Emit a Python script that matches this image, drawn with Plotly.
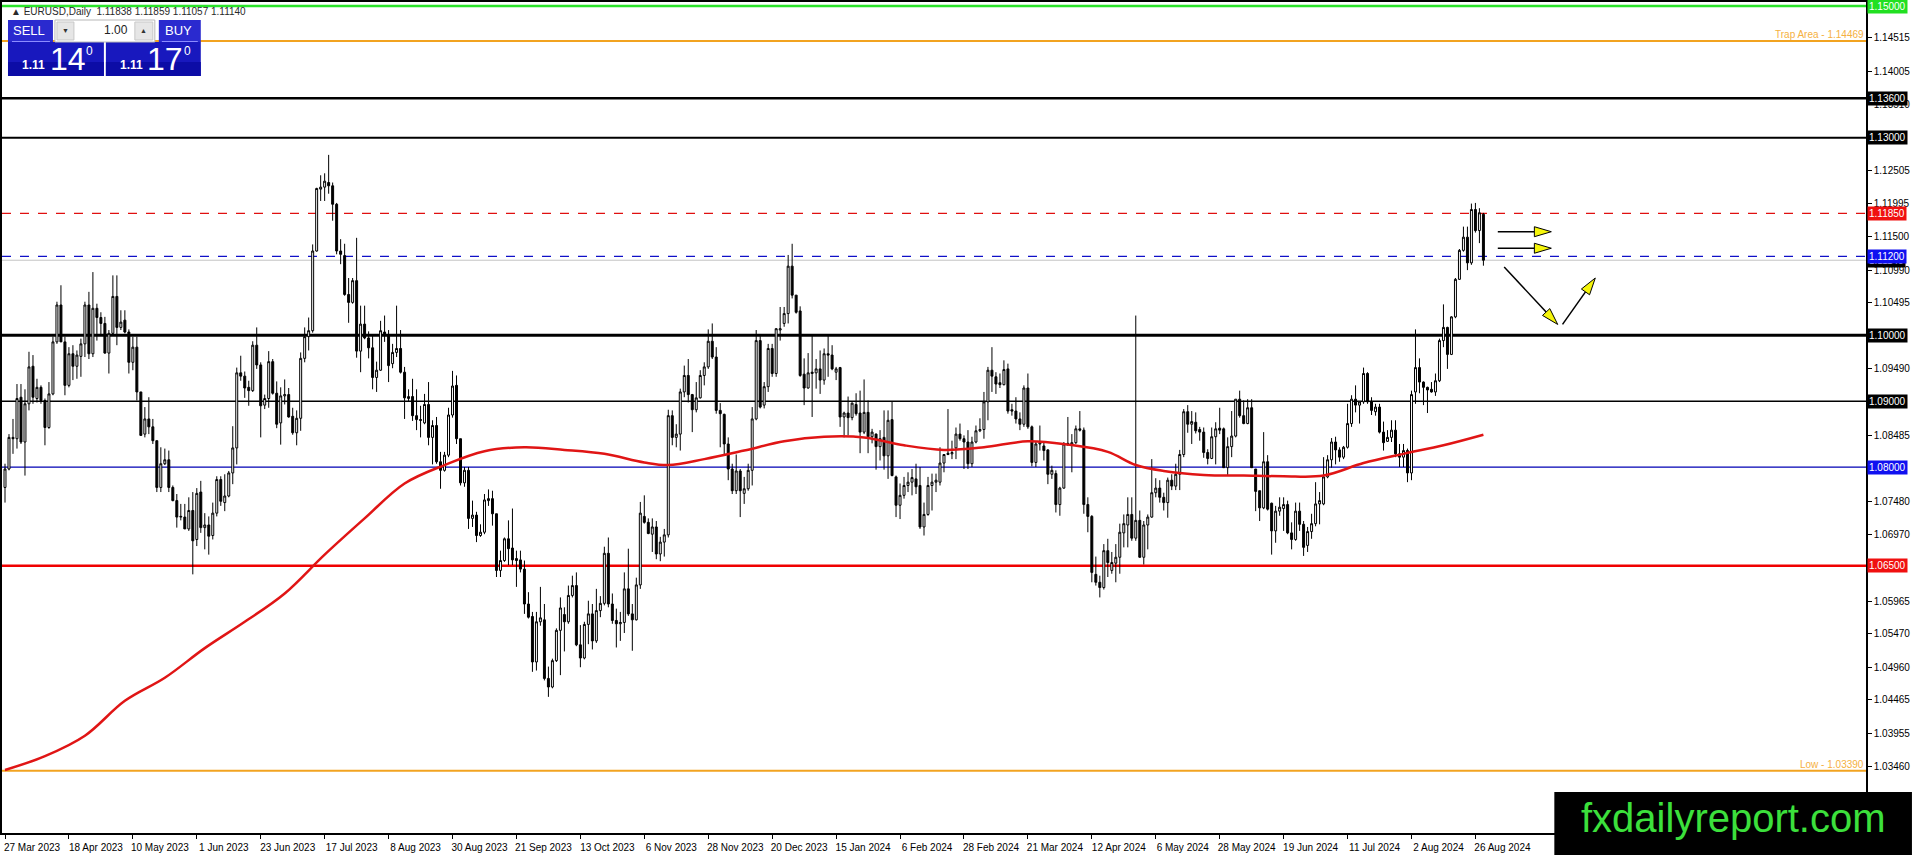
import plotly.graph_objects as go

# ---- data ----------------------------------------------------------------
tick_labels = ["27 Mar 2023", "18 Apr 2023", "10 May 2023", "1 Jun 2023", "23 Jun 2023",
               "17 Jul 2023", "8 Aug 2023", "30 Aug 2023", "21 Sep 2023", "13 Oct 2023",
               "6 Nov 2023", "28 Nov 2023", "20 Dec 2023", "15 Jan 2024", "6 Feb 2024",
               "28 Feb 2024", "21 Mar 2024", "12 Apr 2024", "6 May 2024", "28 May 2024",
               "19 Jun 2024", "11 Jul 2024", "2 Aug 2024", "26 Aug 2024"]

opens = [
    1.0769, 1.0797, 1.0845, 1.0843, 1.0906, 1.0838, 1.0896, 1.0953, 1.0904, 1.0921,
    1.0901, 1.0860, 1.0911, 1.0990, 1.1046, 1.0990, 1.0924, 1.0972, 1.0953, 1.0968,
    1.0987, 1.1046, 1.0972, 1.1041, 1.1027, 1.1018, 1.0973, 1.1003, 1.1059, 1.1012,
    1.1023, 1.1005, 1.0959, 1.0982, 1.0914, 1.0850, 1.0873, 1.0861, 1.0840, 1.0769,
    1.0805, 1.0811, 1.0769, 1.0749, 1.0724, 1.0724, 1.0706, 1.0734, 1.0690, 1.0762,
    1.0708, 1.0712, 1.0696, 1.0730, 1.0781, 1.0746, 1.0756, 1.0791, 1.0829, 1.0943,
    1.0938, 1.0921, 1.0916, 1.0985, 1.0955, 1.0894, 1.0904, 1.0960, 1.0912, 1.0867,
    1.0908, 1.0910, 1.0877, 1.0852, 1.0874, 1.0965, 1.0998, 1.1007, 1.1128, 1.1222,
    1.1225, 1.1232, 1.1227, 1.1199, 1.1128, 1.1121, 1.1062, 1.1050, 1.1083, 1.0976,
    1.1017, 1.0996, 1.0981, 1.0936, 1.0947, 1.1005, 1.1000, 1.0957, 1.0974, 1.0980,
    1.0944, 1.0904, 1.0907, 1.0878, 1.0872, 1.0867, 1.0895, 1.0845, 1.0863, 1.0808,
    1.0795, 1.0818, 1.0879, 1.0924, 1.0843, 1.0776, 1.0795, 1.0722, 1.0727, 1.0696,
    1.0701, 1.0749, 1.0752, 1.0729, 1.0643, 1.0658, 1.0691, 1.0677, 1.0661, 1.0659,
    1.0645, 1.0592, 1.0573, 1.0504, 1.0565, 1.0568, 1.0479, 1.0466, 1.0506, 1.0552,
    1.0576, 1.0565, 1.0605, 1.0620, 1.0530, 1.0510, 1.0561, 1.0577, 1.0536, 1.0582,
    1.0593, 1.0669, 1.0592, 1.0567, 1.0562, 1.0564, 1.0615, 1.0577, 1.0568, 1.0621,
    1.0725, 1.0716, 1.0698, 1.0709, 1.0668, 1.0686, 1.0697, 1.0878, 1.0845, 1.0850,
    1.0914, 1.0939, 1.0910, 1.0887, 1.0905, 1.0939, 1.0952, 1.0991, 1.0967, 1.0886,
    1.0880, 1.0835, 1.0797, 1.0764, 1.0794, 1.0760, 1.0767, 1.0795, 1.0873, 1.0992,
    1.0894, 1.0922, 1.0980, 1.0942, 1.1008, 1.1018, 1.1033, 1.1105, 1.1061, 1.1037,
    1.0941, 1.0920, 1.0942, 1.0943, 1.0949, 1.0932, 1.0972, 1.0970, 1.0944, 1.0951,
    1.0876, 1.0882, 1.0875, 1.0895, 1.0882, 1.0853, 1.0883, 1.0846, 1.0850, 1.0831,
    1.0845, 1.0817, 1.0872, 1.0785, 1.0742, 1.0757, 1.0772, 1.0777, 1.0782, 1.0772,
    1.0709, 1.0728, 1.0772, 1.0777, 1.0777, 1.0806, 1.0819, 1.0820, 1.0829, 1.0850,
    1.0843, 1.0838, 1.0805, 1.0838, 1.0855, 1.0857, 1.0899, 1.0947, 1.0937, 1.0928,
    1.0925, 1.0949, 1.0887, 1.0885, 1.0873, 1.0865, 1.0920, 1.0861, 1.0807, 1.0835,
    1.0832, 1.0826, 1.0789, 1.0790, 1.0743, 1.0768, 1.0834, 1.0834, 1.0837, 1.0858,
    1.0856, 1.0743, 1.0725, 1.0637, 1.0625, 1.0617, 1.0673, 1.0643, 1.0654, 1.0663,
    1.0700, 1.0712, 1.0728, 1.0692, 1.0719, 1.0663, 1.0712, 1.0724, 1.0761, 1.0768,
    1.0754, 1.0746, 1.0780, 1.0771, 1.0789, 1.0819, 1.0884, 1.0865, 1.0868, 1.0857,
    1.0853, 1.0822, 1.0813, 1.0846, 1.0859, 1.0858, 1.0799, 1.0831, 1.0847, 1.0903,
    1.0878, 1.0866, 1.0890, 1.0797, 1.0764, 1.0738, 1.0808, 1.0745, 1.0703, 1.0733,
    1.0737, 1.0743, 1.0700, 1.0690, 1.0733, 1.0713, 1.0681, 1.0702, 1.0714, 1.0744,
    1.0744, 1.0785, 1.0811, 1.0838, 1.0826, 1.0815, 1.0830, 1.0866, 1.0903, 1.0894,
    1.0899, 1.0942, 1.0899, 1.0884, 1.0891, 1.0853, 1.0839, 1.0845, 1.0856, 1.0820,
    1.0815, 1.0825, 1.0791, 1.0914, 1.0951, 1.0929, 1.0921, 1.0918, 1.0914, 1.0931,
    1.0992, 1.1012, 1.0971, 1.1028, 1.1085, 1.1129, 1.1149, 1.1110, 1.1191, 1.1159, 1.11838,
]

highs = [
    1.0805, 1.0850, 1.0873, 1.0926, 1.0926, 1.0918, 1.0975, 1.0970, 1.0934, 1.0924,
    1.0904, 1.0929, 1.0998, 1.1051, 1.1076, 1.0998, 1.0982, 1.0985, 1.0977, 1.0995,
    1.1051, 1.1066, 1.1096, 1.1048, 1.1035, 1.1028, 1.1008, 1.1091, 1.1091, 1.1038,
    1.1038, 1.1009, 1.0998, 1.0998, 1.0914, 1.0891, 1.0906, 1.0873, 1.0840, 1.0830,
    1.0828, 1.0825, 1.0772, 1.0759, 1.0744, 1.0744, 1.0754, 1.0762, 1.0768, 1.0779,
    1.0730, 1.0725, 1.0746, 1.0786, 1.0786, 1.0789, 1.0794, 1.0862, 1.0951, 1.0969,
    1.0945, 1.0931, 1.0991, 1.1012, 1.0959, 1.0910, 1.0976, 1.0964, 1.0930, 1.0921,
    1.0933, 1.0920, 1.0890, 1.0886, 1.0974, 1.1012, 1.1027, 1.1138, 1.1224, 1.1243,
    1.1246, 1.1274, 1.1232, 1.1201, 1.1146, 1.1139, 1.1087, 1.1087, 1.1148, 1.1045,
    1.1045, 1.1006, 1.0999, 1.0960, 1.1022, 1.1030, 1.1008, 1.0987, 1.1045, 1.1008,
    1.0952, 1.0918, 1.0934, 1.0918, 1.0893, 1.0911, 1.0929, 1.0871, 1.0876, 1.0823,
    1.0823, 1.0890, 1.0946, 1.0939, 1.0843, 1.0800, 1.0800, 1.0749, 1.0732, 1.0713,
    1.0759, 1.0766, 1.0764, 1.0729, 1.0673, 1.0693, 1.0719, 1.0737, 1.0673, 1.0673,
    1.0658, 1.0610, 1.0580, 1.0580, 1.0618, 1.0592, 1.0497, 1.0509, 1.0555, 1.0602,
    1.0587, 1.0620, 1.0635, 1.0640, 1.0560, 1.0565, 1.0597, 1.0592, 1.0615, 1.0604,
    1.0679, 1.0693, 1.0608, 1.0585, 1.0580, 1.0640, 1.0676, 1.0592, 1.0632, 1.0747,
    1.0757, 1.0722, 1.0722, 1.0718, 1.0694, 1.0706, 1.0887, 1.0886, 1.0865, 1.0919,
    1.0954, 1.0964, 1.0911, 1.0929, 1.0947, 1.0959, 1.1009, 1.1018, 1.0982, 1.0897,
    1.0881, 1.0845, 1.0805, 1.0819, 1.0797, 1.0785, 1.0805, 1.0891, 1.1008, 1.1002,
    1.0929, 1.0987, 1.0987, 1.1011, 1.1043, 1.1043, 1.1122, 1.1139, 1.1061, 1.1044,
    1.0965, 1.0973, 1.1000, 1.0964, 1.0977, 1.0980, 1.1000, 1.0985, 1.0952, 1.0952,
    1.0884, 1.0907, 1.0898, 1.0912, 1.0916, 1.0933, 1.0901, 1.0858, 1.0851, 1.0856,
    1.0886, 1.0886, 1.0899, 1.0787, 1.0775, 1.0785, 1.0792, 1.0797, 1.0805, 1.0800,
    1.0746, 1.0785, 1.0790, 1.0790, 1.0830, 1.0819, 1.0888, 1.0840, 1.0860, 1.0866,
    1.0848, 1.0856, 1.0846, 1.0863, 1.0874, 1.0914, 1.0952, 1.0982, 1.0944, 1.0942,
    1.0962, 1.0957, 1.0896, 1.0906, 1.0883, 1.0924, 1.0942, 1.0863, 1.0838, 1.0863,
    1.0838, 1.0827, 1.0802, 1.0795, 1.0770, 1.0838, 1.0876, 1.0850, 1.0863, 1.0885,
    1.0860, 1.0754, 1.0727, 1.0664, 1.0635, 1.0683, 1.0691, 1.0671, 1.0683, 1.0714,
    1.0728, 1.0754, 1.0754, 1.1030, 1.0734, 1.0718, 1.0728, 1.0812, 1.0783, 1.0780,
    1.0761, 1.0784, 1.0789, 1.0805, 1.0826, 1.0888, 1.0894, 1.0885, 1.0883, 1.0861,
    1.0860, 1.0827, 1.0860, 1.0868, 1.0890, 1.0860, 1.0845, 1.0885, 1.0903, 1.0916,
    1.0901, 1.0903, 1.0903, 1.0797, 1.0764, 1.0853, 1.0818, 1.0746, 1.0741, 1.0754,
    1.0754, 1.0749, 1.0716, 1.0746, 1.0746, 1.0718, 1.0709, 1.0729, 1.0777, 1.0762,
    1.0815, 1.0818, 1.0844, 1.0846, 1.0830, 1.0832, 1.0896, 1.0909, 1.0924, 1.0899,
    1.0951, 1.0944, 1.0906, 1.0896, 1.0896, 1.0869, 1.0856, 1.0871, 1.0871, 1.0835,
    1.0835, 1.0828, 1.0916, 1.1009, 1.0965, 1.0930, 1.0922, 1.0929, 1.0942, 1.0995,
    1.1047, 1.1013, 1.1029, 1.1087, 1.1131, 1.1165, 1.1165, 1.1200, 1.1201, 1.1193, 1.11859,
]

lows = [
    1.0746, 1.0795, 1.0820, 1.0828, 1.0835, 1.0787, 1.0886, 1.0896, 1.0898, 1.0896,
    1.0833, 1.0858, 1.0909, 1.0987, 1.0990, 1.0909, 1.0921, 1.0932, 1.0934, 1.0937,
    1.0967, 1.0964, 1.0967, 1.0992, 1.1000, 1.0972, 1.0942, 1.1000, 1.0985, 1.1008,
    1.1003, 1.0942, 1.0947, 1.0901, 1.0848, 1.0845, 1.0850, 1.0835, 1.0762, 1.0762,
    1.0803, 1.0762, 1.0748, 1.0708, 1.0719, 1.0706, 1.0703, 1.0637, 1.0680, 1.0700,
    1.0675, 1.0667, 1.0690, 1.0725, 1.0741, 1.0733, 1.0754, 1.0774, 1.0804, 1.0931,
    1.0905, 1.0893, 1.0914, 1.0949, 1.0845, 1.0888, 1.0890, 1.0910, 1.0859, 1.0834,
    1.0895, 1.0875, 1.0849, 1.0833, 1.0855, 1.0959, 1.0977, 1.1004, 1.1127, 1.1204,
    1.1204, 1.1215, 1.1174, 1.1123, 1.1108, 1.1060, 1.1019, 1.1048, 1.0966, 1.0944,
    1.0994, 1.0965, 1.0918, 1.0914, 1.0946, 1.0990, 1.0929, 1.0950, 1.0967, 1.0942,
    1.0873, 1.0899, 1.0870, 1.0856, 1.0845, 1.0865, 1.0833, 1.0804, 1.0805, 1.0767,
    1.0793, 1.0815, 1.0875, 1.0835, 1.0772, 1.0770, 1.0706, 1.0709, 1.0686, 1.0694,
    1.0698, 1.0741, 1.0711, 1.0633, 1.0633, 1.0656, 1.0651, 1.0651, 1.0618, 1.0640,
    1.0577, 1.0570, 1.0489, 1.0491, 1.0559, 1.0476, 1.0451, 1.0464, 1.0504, 1.0484,
    1.0520, 1.0562, 1.0602, 1.0528, 1.0496, 1.0508, 1.0531, 1.0523, 1.0533, 1.0572,
    1.0590, 1.0587, 1.0562, 1.0526, 1.0536, 1.0548, 1.0574, 1.0521, 1.0567, 1.0615,
    1.0714, 1.0698, 1.0671, 1.0660, 1.0657, 1.0664, 1.0693, 1.0833, 1.0830, 1.0825,
    1.0906, 1.0898, 1.0853, 1.0883, 1.0904, 1.0924, 1.0949, 1.0964, 1.0881, 1.0830,
    1.0818, 1.0780, 1.0759, 1.0759, 1.0724, 1.0744, 1.0764, 1.0772, 1.0871, 1.0889,
    1.0889, 1.0914, 1.0937, 1.0937, 1.0992, 1.1013, 1.1018, 1.1056, 1.1033, 1.0937,
    1.0894, 1.0919, 1.0876, 1.0919, 1.0911, 1.0925, 1.0937, 1.0947, 1.0932, 1.0861,
    1.0845, 1.0848, 1.0871, 1.0878, 1.0821, 1.0850, 1.0821, 1.0836, 1.0796, 1.0810,
    1.0796, 1.0782, 1.0786, 1.0724, 1.0721, 1.0752, 1.0762, 1.0757, 1.0759, 1.0706,
    1.0696, 1.0726, 1.0734, 1.0762, 1.0772, 1.0792, 1.0818, 1.0812, 1.0812, 1.0840,
    1.0797, 1.0797, 1.0800, 1.0836, 1.0853, 1.0843, 1.0871, 1.0914, 1.0911, 1.0920,
    1.0924, 1.0881, 1.0878, 1.0866, 1.0856, 1.0861, 1.0858, 1.0801, 1.0800, 1.0825,
    1.0810, 1.0774, 1.0782, 1.0731, 1.0726, 1.0767, 1.0832, 1.0792, 1.0835, 1.0854,
    1.0729, 1.0701, 1.0625, 1.0620, 1.0602, 1.0614, 1.0633, 1.0638, 1.0625, 1.0638,
    1.0678, 1.0678, 1.0688, 1.0688, 1.0662, 1.0652, 1.0675, 1.0723, 1.0754, 1.0746,
    1.0734, 1.0723, 1.0765, 1.0765, 1.0765, 1.0815, 1.0852, 1.0835, 1.0851, 1.0840,
    1.0814, 1.0804, 1.0812, 1.0804, 1.0850, 1.0799, 1.0788, 1.0815, 1.0845, 1.0875,
    1.0865, 1.0865, 1.0799, 1.0733, 1.0718, 1.0736, 1.0734, 1.0667, 1.0685, 1.0726,
    1.0703, 1.0698, 1.0675, 1.0688, 1.0703, 1.0665, 1.0671, 1.0691, 1.0710, 1.0713,
    1.0742, 1.0783, 1.0799, 1.0804, 1.0808, 1.0812, 1.0828, 1.0861, 1.0883, 1.0866,
    1.0896, 1.0896, 1.0879, 1.0878, 1.0851, 1.0825, 1.0838, 1.0838, 1.0815, 1.0800,
    1.0800, 1.0777, 1.0780, 1.0896, 1.0912, 1.0894, 1.0882, 1.0913, 1.0908, 1.0929,
    1.0982, 1.0949, 1.0970, 1.1026, 1.1084, 1.1127, 1.1099, 1.1107, 1.1156, 1.1140, 1.11057,
]

closes = [
    1.0797, 1.0845, 1.0843, 1.0904, 1.0838, 1.0896, 1.0952, 1.0906, 1.0921, 1.0901,
    1.0860, 1.0911, 1.0990, 1.1046, 1.0990, 1.0924, 1.0972, 1.0953, 1.0970, 1.0987,
    1.1046, 1.0972, 1.1041, 1.1027, 1.1018, 1.0973, 1.1003, 1.1059, 1.1012, 1.1020,
    1.1005, 1.0959, 1.0982, 1.0914, 1.0848, 1.0873, 1.0861, 1.0840, 1.0769, 1.0805,
    1.0811, 1.0769, 1.0749, 1.0724, 1.0725, 1.0706, 1.0734, 1.0688, 1.0760, 1.0708,
    1.0712, 1.0695, 1.0730, 1.0781, 1.0748, 1.0756, 1.0791, 1.0829, 1.0943, 1.0938,
    1.0920, 1.0916, 1.0985, 1.0955, 1.0893, 1.0904, 1.0960, 1.0912, 1.0865, 1.0908,
    1.0910, 1.0876, 1.0852, 1.0874, 1.0965, 1.0998, 1.1007, 1.1128, 1.1223, 1.1225,
    1.1234, 1.1227, 1.1199, 1.1128, 1.1123, 1.1062, 1.1050, 1.1083, 1.0976, 1.1017,
    1.0996, 1.0981, 1.0936, 1.0947, 1.1007, 1.1000, 1.0954, 1.0974, 1.0980, 1.0944,
    1.0905, 1.0907, 1.0878, 1.0872, 1.0871, 1.0895, 1.0845, 1.0863, 1.0808, 1.0795,
    1.0818, 1.0879, 1.0923, 1.0843, 1.0776, 1.0795, 1.0722, 1.0727, 1.0696, 1.0701,
    1.0750, 1.0752, 1.0729, 1.0643, 1.0658, 1.0691, 1.0676, 1.0659, 1.0658, 1.0645,
    1.0592, 1.0572, 1.0504, 1.0565, 1.0571, 1.0479, 1.0466, 1.0506, 1.0552, 1.0586,
    1.0565, 1.0605, 1.0620, 1.0530, 1.0510, 1.0561, 1.0577, 1.0536, 1.0582, 1.0593,
    1.0669, 1.0592, 1.0567, 1.0562, 1.0564, 1.0615, 1.0577, 1.0568, 1.0621, 1.0730,
    1.0716, 1.0699, 1.0709, 1.0668, 1.0686, 1.0697, 1.0878, 1.0845, 1.0850, 1.0914,
    1.0939, 1.0910, 1.0887, 1.0905, 1.0939, 1.0952, 1.0991, 1.0967, 1.0886, 1.0881,
    1.0835, 1.0797, 1.0764, 1.0794, 1.0764, 1.0767, 1.0795, 1.0873, 1.0992, 1.0891,
    1.0922, 1.0980, 1.0942, 1.1010, 1.1010, 1.1033, 1.1105, 1.1061, 1.1035, 1.0939,
    1.0920, 1.0943, 1.0944, 1.0949, 1.0932, 1.0972, 1.0970, 1.0949, 1.0949, 1.0876,
    1.0882, 1.0875, 1.0897, 1.0881, 1.0853, 1.0883, 1.0846, 1.0853, 1.0831, 1.0843,
    1.0817, 1.0871, 1.0787, 1.0742, 1.0757, 1.0772, 1.0777, 1.0784, 1.0770, 1.0709,
    1.0728, 1.0772, 1.0777, 1.0780, 1.0806, 1.0819, 1.0821, 1.0822, 1.0850, 1.0843,
    1.0838, 1.0805, 1.0838, 1.0855, 1.0857, 1.0899, 1.0947, 1.0938, 1.0926, 1.0925,
    1.0948, 1.0885, 1.0885, 1.0873, 1.0865, 1.0920, 1.0861, 1.0807, 1.0835, 1.0837,
    1.0825, 1.0789, 1.0795, 1.0743, 1.0768, 1.0835, 1.0836, 1.0837, 1.0858, 1.0856,
    1.0743, 1.0725, 1.0640, 1.0625, 1.0617, 1.0673, 1.0655, 1.0655, 1.0663, 1.0701,
    1.0714, 1.0728, 1.0692, 1.0719, 1.0663, 1.0712, 1.0724, 1.0761, 1.0768, 1.0754,
    1.0746, 1.0780, 1.0771, 1.0789, 1.0819, 1.0884, 1.0865, 1.0869, 1.0855, 1.0853,
    1.0822, 1.0813, 1.0846, 1.0858, 1.0856, 1.0799, 1.0831, 1.0847, 1.0903, 1.0878,
    1.0866, 1.0890, 1.0799, 1.0763, 1.0738, 1.0808, 1.0736, 1.0703, 1.0733, 1.0739,
    1.0743, 1.0700, 1.0690, 1.0733, 1.0713, 1.0678, 1.0702, 1.0714, 1.0744, 1.0749,
    1.0785, 1.0811, 1.0838, 1.0826, 1.0815, 1.0830, 1.0866, 1.0903, 1.0894, 1.0899,
    1.0942, 1.0899, 1.0886, 1.0891, 1.0853, 1.0837, 1.0845, 1.0856, 1.0820, 1.0815,
    1.0825, 1.0791, 1.0910, 1.0951, 1.0929, 1.0921, 1.0917, 1.0914, 1.0931, 1.0992,
    1.1012, 1.0971, 1.1028, 1.1085, 1.1129, 1.1149, 1.1110, 1.1191, 1.1159, 1.1186, 1.11140,
]

# red moving average, read at a handful of bars
ma_bars = [0, 10, 20, 30, 40, 50, 60, 70, 80, 90, 100, 110, 120, 130, 140, 150, 160, 166,
           175, 185, 195, 205, 215, 225, 235, 245, 256, 266, 276, 283, 290, 300, 310, 320,
           330, 340, 350, 360, 370]
ma_values = [1.0340, 1.0361, 1.0392, 1.0445, 1.0480, 1.0525, 1.0565, 1.0608, 1.0667, 1.0722,
             1.0775, 1.0803, 1.0824, 1.0830, 1.0826, 1.0820, 1.0807, 1.0803, 1.0812, 1.0825,
             1.0839, 1.0846, 1.0845, 1.0833, 1.0826, 1.0830, 1.0839, 1.0834, 1.0823, 1.0803,
             1.0794, 1.0788, 1.0787, 1.0786, 1.0787, 1.0806, 1.0820, 1.0833, 1.0849]

# horizontal levels drawn on the chart
levels = [1.15000, 1.13600, 1.13000, 1.11850, 1.11200, 1.10000, 1.09000, 1.08000, 1.06500]
trap_level = 1.14469
low_level = 1.03390
bid_price = 1.11140

y_ticks = [1.14515, 1.14005, 1.13510, 1.12505, 1.11995, 1.11500, 1.10990, 1.10495,
           1.09490, 1.08485, 1.07480, 1.06970, 1.05965,
           1.05470, 1.04960, 1.04465, 1.03955, 1.03460]

# analyst arrows (bar index, price)
arrow_x0 = [373.6, 373.6, 375.2, 389.8]
arrow_y0 = [1.11573, 1.11322, 1.11037, 1.10165]
arrow_x1 = [387.0, 387.0, 388.6, 398.0]
arrow_y1 = [1.11573, 1.11322, 1.10165, 1.10870]

# ---- geometry ---------------------------------------------------------------
W, H = 1912, 855
M_T, M_B, M_R = 2, 22, 46
PLOT_W = W - M_R
PLOT_H = H - M_T - M_B
Y_MIN, Y_MAX = 1.02443, 1.15061
X_MIN, X_MAX = -0.75, 465.75


def to_px(bar, price):
    px = (bar - X_MIN) * PLOT_W / (X_MAX - X_MIN)
    py = M_T + (Y_MAX - price) * PLOT_H / (Y_MAX - Y_MIN)
    return px, py


def from_px(px, py):
    bar = X_MIN + px * (X_MAX - X_MIN) / PLOT_W
    price = Y_MAX - (py - M_T) * (Y_MAX - Y_MIN) / PLOT_H
    return bar, price


def pp(px, py):
    """pixel -> paper"""
    return px / PLOT_W, (H - M_B - py) / PLOT_H


def prect(x0, y0, x1, y1, fill, line=None, lw=0):
    a = pp(x0, y0)
    b = pp(x1, y1)
    return dict(type="rect", xref="paper", yref="paper", x0=a[0], y0=b[1], x1=b[0], y1=a[1],
                fillcolor=fill, line=dict(color=line or fill, width=lw), layer="above")


def ptext(px, py, text, size, color="white", anchor="center", bold=False, family="Liberation Sans"):
    x, y = pp(px, py)
    if bold:
        text = "<b>" + text + "</b>"
    return dict(xref="paper", yref="paper", x=x, y=y, text=text, showarrow=False,
                xanchor=anchor, yanchor="middle", font=dict(size=size, color=color, family=family))


bars = list(range(len(closes)))

fig = go.Figure()

fig.add_trace(go.Candlestick(
    x=bars, open=opens, high=highs, low=lows, close=closes,
    increasing=dict(line=dict(color="black", width=1), fillcolor="white"),
    decreasing=dict(line=dict(color="black", width=1), fillcolor="black"),
    whiskerwidth=0, hoverinfo="skip", showlegend=False,
))

fig.add_trace(go.Scatter(
    x=ma_bars, y=ma_values, mode="lines",
    line=dict(color="#E01515", width=2.5, shape="spline"),
    hoverinfo="skip", showlegend=False,
))

shapes = []
annotations = []

# level lines + price boxes on the axis
level_color = ["#2BE32B", "#000000", "#000000", "#E01010", "#1010C8", "#000000", "#000000", "#0000B4", "#F00000"]
level_width = [2.5, 2.5, 2, 1.2, 1.2, 3, 1.5, 1.2, 2.5]
level_dash = ["solid", "solid", "solid", "dash", "dash", "solid", "solid", "solid", "solid"]
box_color = ["#22E022", "#000000", "#000000", "#F01010", "#1010F0", "#000000", "#000000", "#1010F0", "#F01010"]

# bid line and its (mostly hidden) box first
shapes.append(dict(type="line", xref="paper", yref="y", x0=0, x1=1, y0=bid_price, y1=bid_price,
                   line=dict(color="#C4C4C4", width=1), layer="below"))
annotations.append(dict(xref="paper", yref="y", x=1, y=bid_price, xanchor="left", xshift=1,
                        text=f"{bid_price:.5f}", showarrow=False, bgcolor="#000000", borderpad=1,
                        font=dict(size=10, color="white", family="Liberation Sans")))

for lv, col, lw, dsh, bc in zip(levels, level_color, level_width, level_dash, box_color):
    shapes.append(dict(type="line", xref="paper", yref="y", x0=0, x1=1, y0=lv, y1=lv,
                       line=dict(color=col, width=lw, dash="dash" if dsh == "dash" else None),
                       layer="below"))
    annotations.append(dict(xref="paper", yref="y", x=1, y=lv, xanchor="left", xshift=1,
                            text=f"{lv:.5f}", showarrow=False, bgcolor=bc, borderpad=1,
                            font=dict(size=10, color="white", family="Liberation Sans")))

for lv, label in [(trap_level, "Trap Area - "), (low_level, "Low - ")]:
    shapes.append(dict(type="line", xref="paper", yref="y", x0=0, x1=1, y0=lv, y1=lv,
                       line=dict(color="#F2A320", width=2), layer="below"))
    annotations.append(dict(xref="paper", yref="y", x=1, y=lv, xanchor="right", yanchor="bottom",
                            yshift=-1, text=f"{label}{lv:.5f}", showarrow=False,
                            font=dict(size=10, color="#F5B041", family="Liberation Sans")))

# arrows: black shaft + yellow head with black outline
for x0, y0, x1, y1 in zip(arrow_x0, arrow_y0, arrow_x1, arrow_y1):
    sx, sy = to_px(x0, y0)
    ex, ey = to_px(x1, y1)
    L = ((ex - sx) ** 2 + (ey - sy) ** 2) ** 0.5
    dx, dy = (ex - sx) / L, (ey - sy) / L
    bx, by = ex - 17 * dx, ey - 17 * dy
    nx, ny = -dy, dx
    b0 = from_px(sx, sy)
    b1 = from_px(bx, by)
    shapes.append(dict(type="line", xref="x", yref="y", x0=b0[0], y0=b0[1], x1=b1[0], y1=b1[1],
                       line=dict(color="black", width=1.5), layer="above"))
    pts = [from_px(ex, ey), from_px(bx + 5 * nx, by + 5 * ny), from_px(bx - 5 * nx, by - 5 * ny)]
    path = "M {} {} L {} {} L {} {} Z".format(pts[0][0], pts[0][1], pts[1][0], pts[1][1],
                                              pts[2][0], pts[2][1])
    shapes.append(dict(type="path", xref="x", yref="y", path=path, fillcolor="#F5F50A",
                       line=dict(color="black", width=1), layer="above"))

# one-click trading panel
shapes += [
    prect(6, 20, 51, 42, "#2A2ACF"),
    prect(157, 20, 199, 42, "#2A2ACF"),
    prect(6, 42, 102, 76, "#1818BE"),
    prect(104, 42, 199, 76, "#1818BE"),
    prect(6, 62, 102, 76, "#0C0CA6"),
    prect(104, 62, 199, 76, "#0C0CA6"),
    prect(53, 20, 153, 42, "#FFFFFF", "#B8B8B8", 1),
    prect(55, 22, 72, 40, "#E6E6E6", "#C8C8C8", 1),
    prect(133, 22, 151, 40, "#E6E6E6", "#C8C8C8", 1),
    prect(10, 41, 48, 42, "#8C8CFF"),
    prect(160, 41, 196, 42, "#8C8CFF"),
]
annotations += [
    ptext(27, 31, "SELL", 13),
    ptext(177, 31, "BUY", 13),
    ptext(63.5, 31, "▼", 7, color="#333333"),
    ptext(142, 31, "▲", 7, color="#333333"),
    ptext(128, 30, "1.00", 12, color="#222222", anchor="right"),
    ptext(32, 65, "1.11", 12, bold=True),
    ptext(66, 59, "14", 32),
    ptext(88, 51, "0", 12),
    ptext(130, 65, "1.11", 12, bold=True),
    ptext(163, 59, "17", 32),
    ptext(186, 51, "0", 12),
    ptext(7, 11, "▲ EURUSD,Daily  1.11838 1.11859 1.11057 1.11140", 10, color="#2A2A2A", anchor="left"),
]

# watermark logo box at the bottom right
shapes.append(prect(1554, 792, 1912, 856, "#000000"))
annotations.append(ptext(1733, 818, "fxdailyreport.com", 40, color="#3CE03C", family="Liberation Sans"))

fig.update_layout(
    width=W, height=H,
    margin=dict(l=0, r=M_R, t=M_T, b=M_B, pad=0),
    paper_bgcolor="white", plot_bgcolor="white",
    showlegend=False,
    hovermode=False,
    shapes=shapes,
    annotations=annotations,
    font=dict(family="Liberation Sans", size=10, color="black"),
    xaxis=dict(
        type="linear", range=[X_MIN, X_MAX], rangeslider=dict(visible=False),
        showgrid=False, zeroline=False,
        showline=True, linecolor="black", linewidth=1.5, mirror=True,
        tickvals=list(range(0, len(closes), 16))[:len(tick_labels)], ticktext=tick_labels,
        ticks="outside", ticklen=4, tickcolor="black", ticklabelshift=27,
        tickfont=dict(size=10, color="black", family="Liberation Sans"),
    ),
    yaxis=dict(
        side="right", range=[Y_MIN, Y_MAX],
        showgrid=False, zeroline=False,
        showline=True, linecolor="black", linewidth=1.5, mirror=True,
        tickvals=y_ticks, tickformat=".5f",
        ticks="outside", ticklen=4, tickcolor="black",
        tickfont=dict(size=10, color="black", family="Liberation Sans"),
    ),
)

fig.write_html("out.html", config={"displayModeBar": False},
               post_script="document.body.style.margin='0';")
